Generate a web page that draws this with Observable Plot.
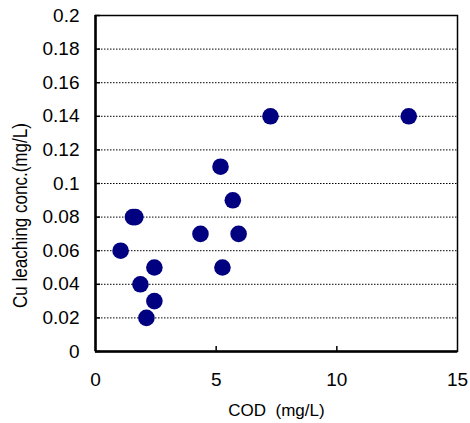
<!DOCTYPE html>
<html>
<head>
<meta charset="utf-8">
<script src="https://cdn.jsdelivr.net/npm/d3@7"></script>
<script src="https://cdn.jsdelivr.net/npm/@observablehq/plot@0.6"></script>
<style>
  html, body { margin: 0; padding: 0; background: white; }
</style>
</head>
<body>
<div id="chart"></div>
<script>
// COD (mg/L) values
const cod = [1.04, 1.55, 1.65, 1.86, 2.44, 2.44, 2.11, 4.35, 5.93, 5.26, 5.69, 5.18, 7.25, 12.98];
// Cu leaching concentration (mg/L)
const cu  = [0.06, 0.08, 0.08, 0.04, 0.05, 0.03, 0.02, 0.07, 0.07, 0.05, 0.09, 0.11, 0.14, 0.14];

const xTicks = [0, 5, 10, 15];
const xInnerTicks = [5, 10];
const yTicks = [0, 0.02, 0.04, 0.06, 0.08, 0.1, 0.12, 0.14, 0.16, 0.18, 0.2];
const yTickLabels = ["0", "0.02", "0.04", "0.06", "0.08", "0.1", "0.12", "0.14", "0.16", "0.18", "0.2"];
const gridTicks = [0.02, 0.04, 0.06, 0.08, 0.1, 0.12, 0.14, 0.16, 0.18];

const xTitle = "COD\u00a0\u00a0(mg/L)";
const yTitle = "Cu leaching conc.(mg/L)";

const data = cod.map((x, i) => ({x, y: cu[i]}));
const yLabel = new Map(yTicks.map((t, i) => [t, yTickLabels[i]]));

const chart = Plot.plot({
  width: 470,
  height: 423,
  marginLeft: 95,
  marginRight: 13,
  marginTop: 15,
  marginBottom: 72,
  style: {fontFamily: "'Liberation Sans', Arial, sans-serif", fontSize: "19px", background: "white", color: "black"},
  x: {domain: [0, 15]},
  y: {domain: [0, 0.2]},
  marks: [
    Plot.ruleY(gridTicks, {stroke: "black", strokeWidth: 1, strokeDasharray: "1.5,1.5"}),
    Plot.frame({stroke: "black", strokeWidth: 1.5}),
    Plot.ruleX([0], {stroke: "black", strokeWidth: 2.5}),
    Plot.ruleY([0], {stroke: "black", strokeWidth: 2.5}),
    Plot.axisY({ticks: yTicks, tickSize: 0, tickPadding: 16, label: null, fontSize: 19,
      tickFormat: d => yLabel.get(d) ?? String(d)}),
    Plot.axisY({ticks: yTicks, tickSize: 5, dx: 5, text: null, label: null, strokeWidth: 1.5}),
    Plot.axisX({ticks: xTicks, tickSize: 0, tickPadding: 21, label: null, fontSize: 19}),
    Plot.axisX({ticks: xInnerTicks, tickSize: 5, dy: -5, text: null, label: null, strokeWidth: 1.5}),
    Plot.dot(data, {x: "x", y: "y", r: 8.3, fill: "#000080", stroke: "none"}),
    Plot.text([xTitle], {frameAnchor: "bottom", dy: 59, lineAnchor: "middle", textAnchor: "middle",
      fontSize: 17, fill: "black", style: "letter-spacing:2.2px"}),
    Plot.text([yTitle], {frameAnchor: "left", dx: -75, dy: 32, rotate: -90, lineAnchor: "middle", textAnchor: "middle",
      fontSize: 20, fill: "black"})
  ]
});
// compress the y title horizontally like the narrow font in the reference
d3.select(chart).selectAll("text").filter(function() { return this.textContent === yTitle; })
  .attr("textLength", 185).attr("lengthAdjust", "spacingAndGlyphs");
document.getElementById("chart").appendChild(chart);
</script>
</body>
</html>
